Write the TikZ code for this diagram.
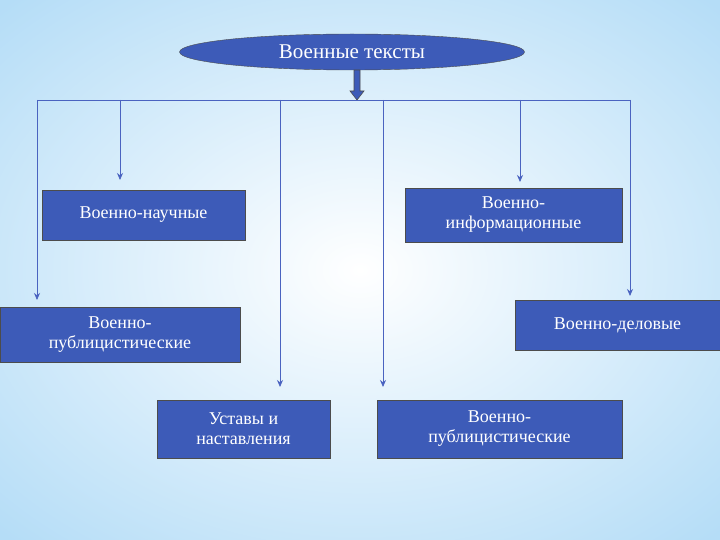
\documentclass[tikz,border=0pt]{standalone}
\usepackage{fontspec}
\setmainfont{Liberation Serif}
\usetikzlibrary{shapes.geometric,arrows.meta}
\definecolor{boxblue}{HTML}{3D5BB8}
\definecolor{linebl}{HTML}{4A63C0}
\definecolor{bgblue}{HTML}{B5DDF7}
\begin{document}
\begin{tikzpicture}[x=1pt,y=-1pt,
 bx/.style={draw=black!70,fill=boxblue,text=white,font=\fontsize{18}{20}\selectfont,align=center,inner sep=0pt,line width=0.8pt},
 ln/.style={draw=linebl,line width=0.8pt},
 ar/.style={ln,-{Stealth[length=7pt,width=6pt]}}]
\useasboundingbox (0,0) rectangle (720,540);
\shade[inner color=white,outer color=bgblue] (-150,-100) rectangle (870,640);
\node[ellipse,draw=black!70,fill=boxblue,text=white,minimum width=345,minimum height=36,inner sep=0,font=\fontsize{21}{23}\selectfont] (top) at (352,52) {Военные тексты};
\node[bx,minimum width=203,minimum height=50] (b1) at (143.5,215) {Военно-научные};
\node[bx,minimum width=217,minimum height=54] (b2) at (513.5,215) {Военно-\\информационные};
\node[bx,minimum width=240,minimum height=55] (b3) at (120,334.5) {Военно-\\публицистические};
\node[bx,minimum width=205,minimum height=50] (b4) at (617.5,325) {Военно-деловые};
\node[bx,minimum width=173,minimum height=58] (b5) at (243.5,429) {Уставы и\\наставления};
\node[bx,minimum width=245,minimum height=58] (b6) at (499.5,429) {Военно-\\публицистические};
\coordinate (h) at (357,100);
\coordinate (hl) at (37,100);
\coordinate (hr) at (630,100);
\draw[draw=black!70,fill=boxblue,line width=0.6pt] (354,70) -- (360,70) -- (360,91) -- (364,91) -- (357,100) -- (350,91) -- (354,91) -- cycle;
\draw[ln] (hl) -- (hr);
\draw[ar] (hl) -- (37,300);
\draw[ar] (120,100) -- (120,180);
\draw[ar] (280,100) -- (280,387);
\draw[ar] (383,100) -- (383,387);
\draw[ar] (520,100) -- (520,182);
\draw[ar] (hr) -- (630,296);
\end{tikzpicture}
\end{document}
